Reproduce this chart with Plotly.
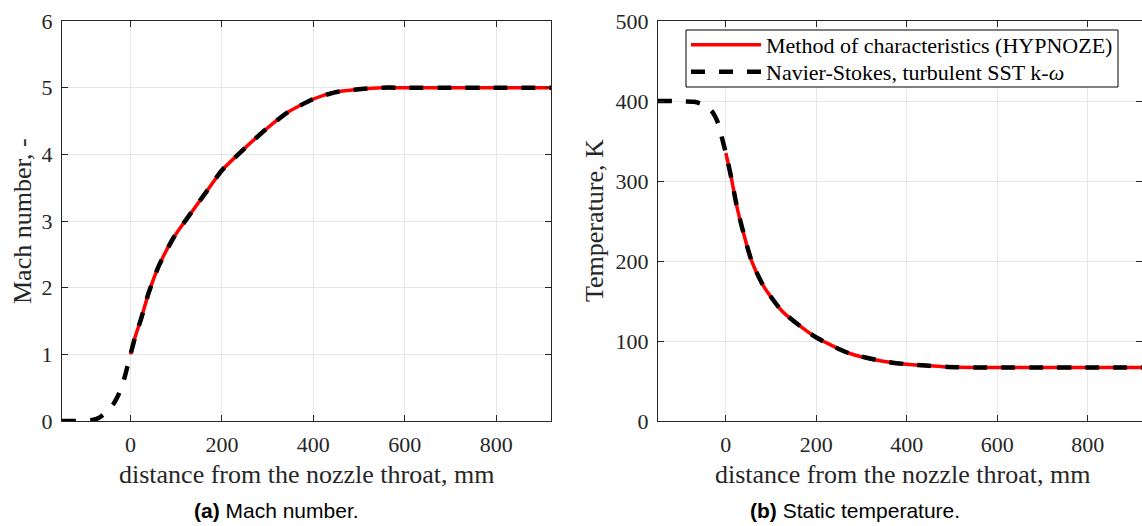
import plotly.graph_objects as go

# ---- data ----
# Method of characteristics (starts at the throat)
moc_x = [0, 10, 22, 40, 62, 95, 128, 165, 200, 245, 297, 344, 400, 447, 505, 550, 600, 700, 800, 920]
moc_mach = [1.0, 1.26, 1.51, 1.93, 2.33, 2.76, 3.08, 3.43, 3.76, 4.06, 4.38, 4.63, 4.83, 4.93, 4.98, 5.0, 5.0, 5.0, 5.0, 5.0]
moc_tx = [0, 12, 24, 39, 57, 83, 124, 168, 201, 271, 344, 399, 450, 491, 550, 600, 700, 800, 920]
moc_t = [335, 304, 269, 235, 200, 169, 137.5, 117, 104, 85, 75, 71, 69, 67.5, 67, 67, 67, 67, 67]

# Navier-Stokes (includes the converging part)
ns_x = [-150, -120, -100, -84, -70, -59, -48, -37, -28, -20, -12, -5, 0, 10, 22, 40, 62, 95, 128, 165,
        200, 245, 297, 344, 400, 447, 505, 550, 600, 700, 800, 920]
ns_mach = [0.0, 0.0, 0.005, 0.015, 0.045, 0.10, 0.17, 0.26, 0.37, 0.50, 0.68, 0.87, 1.0, 1.26, 1.51, 1.93,
           2.33, 2.76, 3.08, 3.43, 3.76, 4.06, 4.38, 4.63, 4.83, 4.93, 4.98, 5.0, 5.0, 5.0, 5.0, 5.0]
ns_tx = [-150, -120, -90, -70, -57, -45, -32, -24, -17, -10, -5, 0, 12, 24, 39, 57, 83, 124, 168, 201,
         271, 344, 399, 450, 491, 550, 600, 700, 800, 920]
ns_t = [400, 400, 399.5, 399, 397, 394, 388, 381, 372, 357, 346, 335, 304, 269, 235, 200, 169, 137.5, 117,
        104, 85, 75, 71, 69, 67.5, 67, 67, 67, 67, 67]

x_range = [-150, 920]
x_ticks = [0, 200, 400, 600, 800]
mach_ticks = [0, 1, 2, 3, 4, 5, 6]
temp_ticks = [0, 100, 200, 300, 400, 500]

name_moc = "Method of characteristics (HYPNOZE)"
name_ns = "Navier-Stokes, turbulent SST k-<i>ω</i>"
xlabel = "distance from the nozzle throat, mm"
ylabel_a = "Mach number, -"
ylabel_b = "Temperature, K"
cap_a = "<b>(a)</b> Mach number."
cap_b = "<b>(b)</b> Static temperature."

W, H = 1142, 526
SERIF = "Liberation Serif, Times New Roman, serif"
SANS = "Liberation Sans, Arial, sans-serif"
AX = "#262626"
GRID = "#e6e6e6"

RED = dict(color="#ff0000", width=3.5, shape="spline", smoothing=0.6)
BLK = dict(color="#000000", width=4.5, dash="14px,14px", shape="spline", smoothing=0.6)

fig = go.Figure()
fig.add_trace(go.Scatter(x=moc_x, y=moc_mach, mode="lines", line=RED,
                         name=name_moc, showlegend=False, xaxis="x", yaxis="y"))
fig.add_trace(go.Scatter(x=ns_x, y=ns_mach, mode="lines", line=BLK,
                         name=name_ns, showlegend=False, xaxis="x", yaxis="y"))
fig.add_trace(go.Scatter(x=moc_tx, y=moc_t, mode="lines", line=RED,
                         name=name_moc, xaxis="x2", yaxis="y2", legend="legend"))
fig.add_trace(go.Scatter(x=ns_tx, y=ns_t, mode="lines", line=BLK,
                         name=name_ns, xaxis="x2", yaxis="y2", legend="legend2"))


def px_x(a, b):
    return [a / W, b / W]


def px_y(top, bottom):
    return [(H - bottom) / H, (H - top) / H]


def pxX(v):
    return v / W


def pxY(v):
    return (H - v) / H


common_axis = dict(showline=True, linecolor=AX, linewidth=1, mirror="ticks", ticks="inside", ticklen=6,
                   tickcolor=AX, showgrid=True, gridcolor=GRID, gridwidth=1, zeroline=False,
                   automargin=False, tickfont=dict(family=SERIF, size=22, color=AX))


def label(text, x, y, font, angle=0):
    return dict(text=text, x=pxX(x), y=pxY(y), xref="paper", yref="paper", showarrow=False,
                xanchor="center", yanchor="middle", textangle=angle, font=font)


TF = dict(family=SERIF, size=26, color=AX)
CF = dict(family=SANS, size=21, color="#000000")
LF = dict(family=SERIF, size=22, color="#000000")


def legend_row(yc):
    return dict(x=686 / W, y=pxY(yc), xanchor="left", yanchor="middle",
                bgcolor="rgba(0,0,0,0)", borderwidth=0, font=LF, itemwidth=70)


fig.update_layout(
    width=W, height=H, margin=dict(l=0, r=0, t=0, b=0),
    paper_bgcolor="white", plot_bgcolor="white",
    xaxis=dict(domain=px_x(62, 551), range=x_range, tickvals=x_ticks, anchor="y",
               ticklabelstandoff=4, **common_axis),
    yaxis=dict(domain=px_y(21, 421), range=[0, 6], tickvals=mach_ticks, anchor="x",
               ticklabelstandoff=4, **common_axis),
    xaxis2=dict(domain=px_x(658, 1142), range=x_range, tickvals=x_ticks, anchor="y2",
                ticklabelstandoff=4, **common_axis),
    yaxis2=dict(domain=px_y(21, 421), range=[0, 500], tickvals=temp_ticks, anchor="x2",
                ticklabelstandoff=4, **common_axis),
    legend=legend_row(45),
    legend2=legend_row(72),
    shapes=[dict(type="rect", xref="paper", yref="paper", x0=pxX(686), x1=pxX(1118),
                 y0=pxY(87), y1=pxY(30), line=dict(color="#000000", width=1),
                 fillcolor="white", layer="above")],
    annotations=[
        label(xlabel, 306, 474, TF),
        label(xlabel, 902, 474, TF),
        label(ylabel_a, 22, 221, TF, -90),
        label(ylabel_b, 594, 221, TF, -90),
        label(cap_a, 276, 510, CF),
        label(cap_b, 855, 510, CF),
    ],
)

fig.write_html("out.html", config={"displayModeBar": False},
               post_script="document.body.style.margin='0';document.body.style.overflow='hidden';")
